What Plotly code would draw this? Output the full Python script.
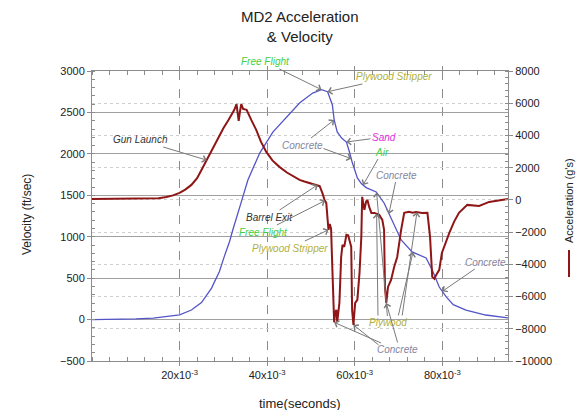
import numpy as np
import plotly.graph_objects as go

# ---- data -------------------------------------------------------------
# velocity trace (time in ms, velocity in ft/sec)
vel_t_ms = [0, 5, 10, 14, 17, 20, 22.7, 25, 27.3, 29.1, 30.2, 31.4, 32.2, 33.0,
            34.1, 35.6, 37.0, 38.3, 41.3, 44.4, 47.4, 50.4, 52.4, 53.8, 54.9,
            55.3, 56.0, 57.0, 58.1, 58.8, 59.4, 60.6, 61.5, 62.6, 64.9, 66.7,
            67.6, 69.0, 70.6, 73.1, 76.3, 77.7, 79.3, 80.9, 82.5, 85.4, 89.9,
            95.0]
vel_ftps = [0, 2, 8, 18, 35, 58, 115, 205, 380, 580, 760, 940, 1090, 1220,
            1420, 1685, 1860, 2010, 2263, 2445, 2614, 2734, 2775, 2750, 2590,
            2409, 2264, 2190, 2143, 2022, 1902, 1709, 1641, 1593, 1540, 1407,
            1299, 1142, 961, 816, 744, 599, 393, 273, 180, 115, 55, 20]

# acceleration trace (time in ms, acceleration in g's)
acc_t_ms = [0, 8, 15.2, 17, 18.5, 20, 21.3, 22.7, 24, 25, 26.6, 27.8, 28.9,
            30, 31.2, 32.5, 33.0, 33.3, 33.5, 33.8, 34.1, 34.5, 35.3, 36.4,
            37.5, 38.6, 39.8, 41.2, 42.8, 44.5, 46.2, 47.4, 48.5, 49.6, 51.5,
            52.0, 52.6, 53.1, 53.5, 53.8, 54.0, 54.3, 54.6, 54.9, 55.3, 55.5,
            55.8, 56.0, 56.5, 56.9, 57.2, 57.6, 58.1, 58.5, 59.2, 59.4, 59.7,
            60.1, 60.6, 61.1, 61.5, 61.7, 62.2, 62.6, 62.9, 63.3, 63.8, 64.5,
            65.6, 66.3, 66.7, 66.9, 67.2, 67.6, 68.3, 69.0, 69.7, 70.6, 71.3,
            72.4, 73.2, 74.0, 75.4, 76.6, 77.2, 77.7, 78.2, 78.6, 79.3, 79.9,
            80.9, 81.6, 82.7, 83.8, 85.7, 87.0, 88.4, 90.7, 95.0]
acc_g = [50, 60, 100, 180, 280, 430, 640, 930, 1350, 1860, 2670, 3300, 3910,
         4450, 4970, 5590, 5950, 5300, 4900, 5500, 5950, 5650, 5590, 4950,
         4350, 3600, 2980, 2450, 2050, 1700, 1430, 1241, 1140, 1060, 931,
         850, 434, 0, -186, -1400, -1860, -1500, -1800, -4345, -7600, -7000,
         -6830, -7570, -6390, -3540, -2790, -2920, -2170, -2200, -2920,
         -6830, -7760, -6390, -6200, -4500, -2300, 190, -620, -100, 0, -434,
         -807, -807, -931, -1241, -1862, -5400, -6400, -5400, -4966, -4159,
         -3540, -1862, -807, -745, -800, -760, -820, -807, -2297, -4780,
         -4900, -4655, -4345, -3290, -2500, -2048, -1350, -800, -310, -350,
         -372, -124, 62]

x_tick_ms = [20, 40, 60, 80]
x_tick_text = ["%dx10<sup>-3</sup>" % v for v in x_tick_ms]
vel_ticks = [-500, 0, 500, 1000, 1500, 2000, 2500, 3000]
acc_ticks = [-10000, -8000, -6000, -4000, -2000, 0, 2000, 4000, 6000, 8000]

# ---- figure geometry -----------------------------------------------------
W, H = 578, 410
ML, MR, MT, MB = 92, 70, 71, 49
PW, PH = W - ML - MR, H - MT - MB
X_RANGE = [0, 0.095]
V_RANGE = [-500, 3000]
A_RANGE = [-10000, 8000]

RED = "#8e1616"
BLUE = "#5454c8"
ARROW = "#7a7a7a"
GREEN = "#3fcf3f"
OLIVE = "#b0b03a"
GREYBLUE = "#8585a0"
MAGENTA = "#e02ee0"
DARK = "#333333"
FONT = "Liberation Sans, Arial, sans-serif"

vel_t = np.array(vel_t_ms) / 1000.0
acc_t = np.array(acc_t_ms) / 1000.0


def px_x(t):
    return ML + (t - X_RANGE[0]) / (X_RANGE[1] - X_RANGE[0]) * PW


def px_y(val, rng):
    return MT + (rng[1] - val) / (rng[1] - rng[0]) * PH


def paper_xy(px, py):
    """Pixel position in the page -> paper coordinates."""
    return (px - ML) / PW, (MT + PH - py) / PH


def on_curve(which, t_ms):
    """Point on a trace at a given time: (x, y, yref, pixel x, pixel y)."""
    t = t_ms / 1000.0
    if which == "vel":
        y = float(np.interp(t, vel_t, vel_ftps))
        return t, y, "y", px_x(t), px_y(y, V_RANGE)
    y = float(np.interp(t, acc_t, acc_g))
    return t, y, "y2", px_x(t), px_y(y, A_RANGE)


def callout(text, color, text_xy, which, t_ms, size=10):
    x, y, yref, tx, ty = on_curve(which, t_ms)
    return dict(
        x=x, y=y, xref="x", yref=yref,
        ax=text_xy[0] - tx, ay=text_xy[1] - ty,
        text="<i>%s</i>" % text if text else "",
        font=dict(family=FONT, size=size, color=color or ARROW),
        showarrow=True, arrowhead=4, arrowsize=1.3, arrowwidth=1,
        arrowcolor=ARROW,
    )


fig = go.Figure()

fig.add_trace(go.Scatter(
    x=vel_t, y=vel_ftps, mode="lines", name="Velocity",
    line=dict(color=BLUE, width=1.3), yaxis="y",
))
fig.add_trace(go.Scatter(
    x=acc_t, y=acc_g, mode="lines", name="Acceleration (g's)",
    line=dict(color=RED, width=2), yaxis="y2",
))

notes = [
    callout("Free Flight", GREEN, (265, 62), "vel", 52.4),
    callout("Plywood Stripper", OLIVE, (394, 77), "vel", 53.8),
    callout("Gun Launch", DARK, (140, 140), "acc", 26.2),
    callout("Concrete", GREYBLUE, (302, 145), "vel", 55.3),
    callout("", None, (322, 148), "vel", 59.2),
    callout("Sand", MAGENTA, (384, 137), "vel", 58.1),
    callout("Air", GREEN, (382, 152), "vel", 61.9),
    callout("Concrete", GREYBLUE, (397, 175), "vel", 67.8),
    callout("Barrel Exit", DARK, (269, 217), "acc", 51.5),
    callout("Free Flight", GREEN, (263, 232), "acc", 53.2),
    callout("Plywood Stripper", OLIVE, (290, 248), "acc", 54.0),
    callout("Plywood", OLIVE, (388, 323), "vel", 65.0),
    callout("", None, (378, 317), "acc", 65.0),
    callout("", None, (398, 317), "vel", 73.3),
    callout("", None, (402, 317), "acc", 74.2),
    callout("Concrete", GREYBLUE, (397, 350), "acc", 55.3),
    callout("", None, (380, 346), "acc", 59.7),
    callout("", None, (398, 344), "acc", 67.2),
    callout("Concrete", GREYBLUE, (485, 262), "vel", 80.0),
]

# chart title and axis titles as paper annotations
tx, ty = paper_xy(ML + PW / 2, 26)
notes.append(dict(text="MD2 Acceleration<br>& Velocity", xref="paper",
                  yref="paper", x=tx, y=ty, xanchor="center",
                  yanchor="middle", showarrow=False,
                  font=dict(family=FONT, size=15, color="#222")))
tx, ty = paper_xy(ML + PW / 2, 403)
notes.append(dict(text="time(seconds)", xref="paper", yref="paper", x=tx,
                  y=ty, xanchor="center", yanchor="middle", showarrow=False,
                  font=dict(family=FONT, size=13, color="#222")))
tx, ty = paper_xy(27, 215)
notes.append(dict(text="Velocity (ft/sec)", xref="paper", yref="paper",
                  x=tx, y=ty, textangle=-90, xanchor="center",
                  yanchor="middle", showarrow=False,
                  font=dict(family=FONT, size=12, color="#222")))
tx, ty = paper_xy(569, 201)
notes.append(dict(text="Acceleration (g's)", xref="paper", yref="paper",
                  x=tx, y=ty, textangle=-90, xanchor="center",
                  yanchor="middle", showarrow=False,
                  font=dict(family=FONT, size=11, color="#222")))

lx, ly0 = paper_xy(569, 250)
_, ly1 = paper_xy(569, 277)

axis_common = dict(
    showline=True, linecolor="#8c8c8c", linewidth=1,
    tickfont=dict(family=FONT, size=11, color="#222"),
    zeroline=False, ticks="outside", ticklen=4, tickcolor="#8c8c8c",
)

fig.update_layout(
    width=W, height=H,
    margin=dict(l=ML, r=MR, t=MT, b=MB),
    paper_bgcolor="white", plot_bgcolor="white",
    showlegend=False,
    font=dict(family=FONT, color="#222"),
    xaxis=dict(
        range=X_RANGE, tickvals=[v / 1000 for v in x_tick_ms],
        ticktext=x_tick_text, showgrid=True, gridcolor="#8c8c8c",
        griddash="dash", gridwidth=1, mirror="allticks",
        minor=dict(ticks="inside", ticklen=3, dtick=0.004,
                   tickcolor="#8c8c8c", showgrid=False),
        **axis_common,
    ),
    yaxis=dict(
        range=V_RANGE, tickvals=vel_ticks, tickformat="d", showgrid=True,
        gridcolor="#a0a0a0", gridwidth=1.2,
        minor=dict(ticks="inside", ticklen=3, dtick=100,
                   tickcolor="#8c8c8c", showgrid=False),
        **axis_common,
    ),
    yaxis2=dict(
        range=A_RANGE, tickvals=acc_ticks, tickformat="d", overlaying="y",
        side="right", showgrid=True, gridcolor="#cfcfcf", griddash="dot",
        gridwidth=1,
        minor=dict(ticks="inside", ticklen=3, dtick=400,
                   tickcolor="#8c8c8c", showgrid=False),
        **axis_common,
    ),
    annotations=notes,
    shapes=[dict(type="line", xref="paper", yref="paper",
                 x0=lx, x1=lx, y0=ly0, y1=ly1,
                 line=dict(color=RED, width=2))],
)

fig.write_html("out.html")
